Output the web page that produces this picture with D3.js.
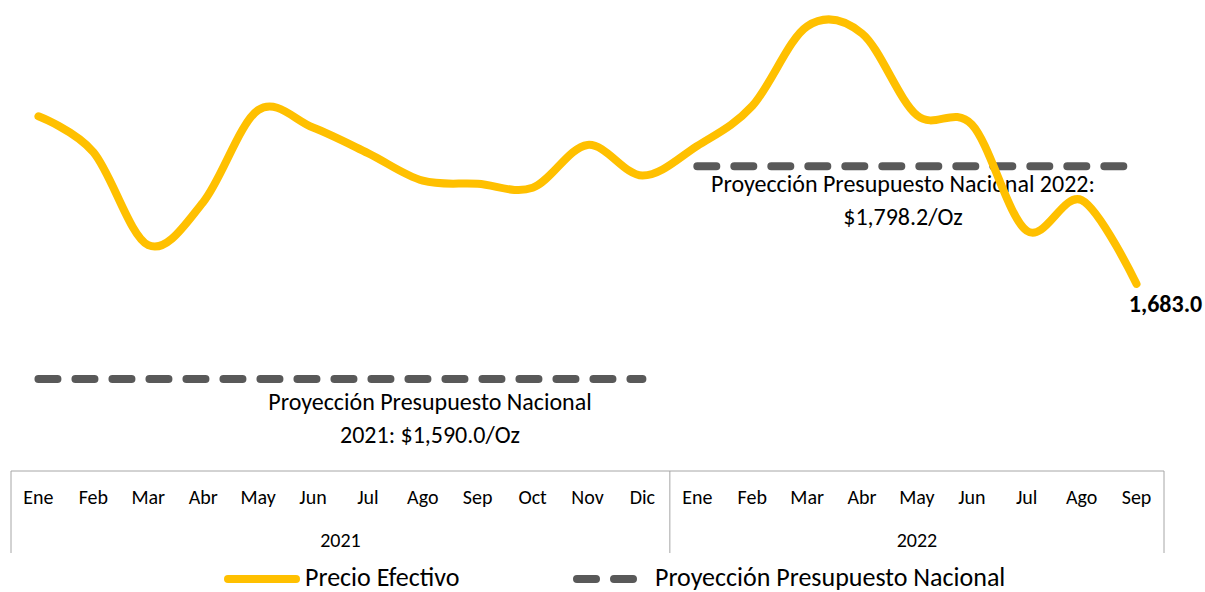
<!DOCTYPE html>
<html>
<head>
<meta charset="utf-8">
<script src="https://cdn.jsdelivr.net/npm/d3@7"></script>
<style>
  body { margin: 0; background: #fff; }
  text { font-family: Carlito, Calibri, Lato, sans-serif; fill: #000; }
</style>
</head>
<body>
<svg width="1205" height="592"></svg>
<script>
// data
const months = ["Ene","Feb","Mar","Abr","May","Jun","Jul","Ago","Sep","Oct","Nov","Dic"];
const years = ["2021", "2022"];
const monthsPerYear = [12, 9];
const precio = [1847, 1812, 1721, 1763, 1853, 1836, 1811, 1784, 1781, 1777, 1819, 1789,
                1818, 1857, 1935, 1928, 1848, 1839, 1735, 1765, 1683.0];
const proyeccionYears = ["2021", "2022"];
const proyeccionValues = [1590.0, 1798.2];
const proyeccionLabels = [["Proyección Presupuesto Nacional", "2021: $1,590.0/Oz"],
                          ["Proyección Presupuesto Nacional 2022:", "$1,798.2/Oz"]];

const svg = d3.select("svg"),
      plotLeft = 11, plotRight = 1164, plotTop = 11, plotBottom = 471;

const cats = [];
years.forEach((yr, i) => months.slice(0, monthsPerYear[i]).forEach(m => cats.push({year: yr, month: m, key: yr + "-" + m})));

const x = d3.scaleBand().domain(cats.map(d => d.key)).range([plotLeft, plotRight]);
const cx = k => x(k) + x.bandwidth() / 2;
const y = d3.scaleLinear().domain([1500, 1950]).range([plotBottom, plotTop]);

const yellow = "#FFC000", gray = "#595959";

// category axis (two levels)
const axis = svg.append("g");
axis.append("line").attr("x1", plotLeft).attr("x2", plotRight).attr("y1", plotBottom).attr("y2", plotBottom)
    .attr("stroke", "#A6A6A6");
let start = 0;
const bounds = [];
years.forEach((yr, i) => {
  const first = cats[start].key, last = cats[start + monthsPerYear[i] - 1].key;
  bounds.push({year: yr, x0: x(first), x1: x(last) + x.bandwidth()});
  start += monthsPerYear[i];
});
const edges = [plotLeft].concat(bounds.map(b => b.x1));
axis.selectAll(".tick").data(edges).enter().append("line")
    .attr("x1", d => d).attr("x2", d => d).attr("y1", plotBottom).attr("y2", plotBottom + 82)
    .attr("stroke", "#A6A6A6");
axis.selectAll(".month").data(cats).enter().append("text")
    .attr("x", d => cx(d.key)).attr("y", plotBottom + 28)
    .attr("text-anchor", "middle").attr("dominant-baseline", "middle")
    .style("font-size", "20px").text(d => d.month);
axis.selectAll(".year").data(bounds).enter().append("text")
    .attr("x", d => (d.x0 + d.x1) / 2).attr("y", plotBottom + 71)
    .attr("text-anchor", "middle").attr("dominant-baseline", "middle")
    .style("font-size", "20px").text(d => d.year);

// projection lines
proyeccionYears.forEach((yr, i) => {
  const ks = cats.filter(d => d.year === yr).map(d => d.key);
  svg.append("line")
     .attr("x1", cx(ks[0])).attr("x2", cx(ks[ks.length - 1]))
     .attr("y1", y(proyeccionValues[i])).attr("y2", y(proyeccionValues[i]))
     .attr("stroke", gray).attr("stroke-width", 8)
     .attr("stroke-dasharray", "19,18").attr("stroke-linecap", "round");
});

// projection labels
const labelPos = [{x: 430, y: y(proyeccionValues[0]) + 25}, {x: 903, y: y(proyeccionValues[1]) + 20}];
proyeccionLabels.forEach((lines, i) => {
  lines.forEach((t, j) => {
    svg.append("text")
       .attr("x", labelPos[i].x).attr("y", labelPos[i].y + j * 33)
       .attr("text-anchor", "middle").attr("dominant-baseline", "middle")
       .style("font-size", "24px").text(t);
  });
});

// price line
const line = d3.line()
  .x((d, i) => cx(cats[i].key))
  .y(d => y(d))
  .curve(d3.curveCatmullRom.alpha(0));

svg.append("path")
   .datum(precio)
   .attr("fill", "none")
   .attr("stroke", yellow)
   .attr("stroke-width", 8)
   .attr("stroke-linecap", "round")
   .attr("stroke-linejoin", "round")
   .attr("d", line);

// last value label
const lastI = precio.length - 1;
svg.append("text")
   .attr("x", cx(cats[lastI].key) + 29).attr("y", y(precio[lastI]) + 22)
   .attr("text-anchor", "middle").attr("dominant-baseline", "middle")
   .style("font-size", "24px").style("font-weight", "bold")
   .text(d3.format(",.1f")(precio[lastI]));

// legend
const lg = svg.append("g").attr("transform", "translate(0,579)");
lg.append("line").attr("x1", 228).attr("x2", 296)
  .attr("stroke", yellow).attr("stroke-width", 8).attr("stroke-linecap", "round");
lg.append("text").attr("x", 305).attr("y", 1).attr("dominant-baseline", "middle")
  .style("font-size", "26px").text("Precio Efectivo");
lg.append("line").attr("x1", 577).attr("x2", 634)
  .attr("stroke", gray).attr("stroke-width", 8)
  .attr("stroke-dasharray", "19,18").attr("stroke-linecap", "round");
lg.append("text").attr("x", 655).attr("y", 1).attr("dominant-baseline", "middle")
  .style("font-size", "26px").text("Proyección Presupuesto Nacional");
</script>
</body>
</html>
